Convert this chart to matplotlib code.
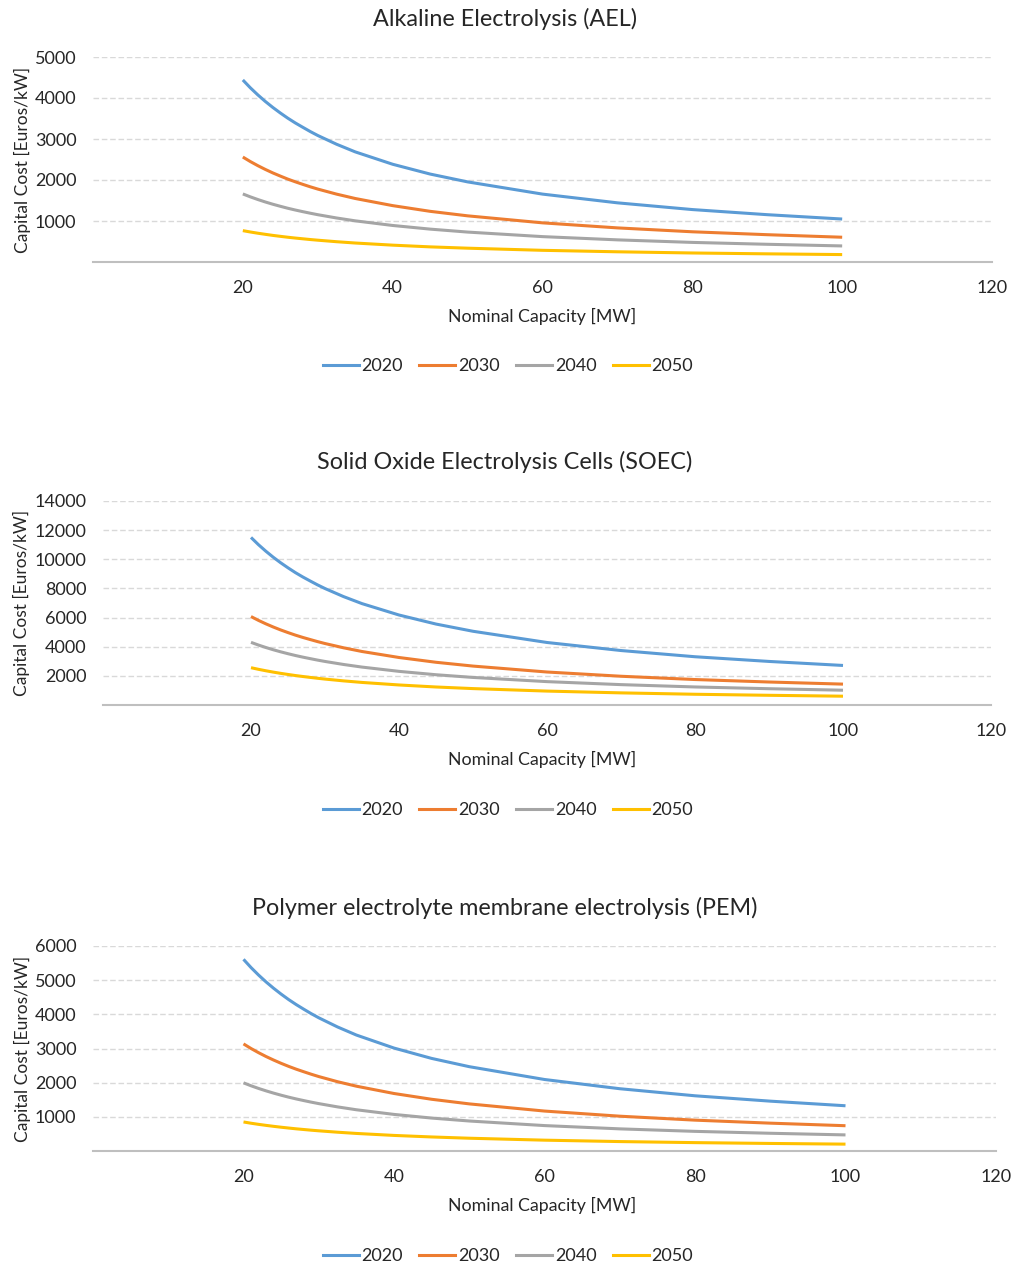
import matplotlib.pyplot as plt
from matplotlib.lines import Line2D

plt.rcParams['font.family'] = ['Lato', 'DejaVu Sans']

W, H = 1013, 1265

# Nominal capacity [MW] where the curves were read
capacity = [20, 21, 22, 23, 24, 25, 26, 27, 28, 29, 30, 32.5, 35, 40, 45, 50, 60, 70, 80, 90, 100]
years = ['2020', '2030', '2040', '2050']
colors = ['#5B9BD5', '#ED7D31', '#A5A5A5', '#FFC000']

# Alkaline Electrolysis (AEL) [Euros/kW]
ael_2020 = [4440, 4249, 4076, 3916, 3770, 3635, 3508, 3392, 3286, 3182, 3086, 2873, 2686, 2384, 2145, 1954, 1656, 1443, 1279, 1154, 1048]
ael_2030 = [2560, 2450, 2350, 2258, 2173, 2096, 2022, 1956, 1894, 1834, 1779, 1656, 1549, 1375, 1236, 1126, 955, 832, 737, 666, 604]
ael_2040 = [1660, 1589, 1524, 1464, 1409, 1359, 1311, 1268, 1228, 1190, 1154, 1074, 1004, 891, 802, 730, 619, 540, 478, 432, 392]
ael_2050 = [765, 732, 702, 675, 649, 626, 604, 584, 566, 548, 532, 495, 463, 411, 369, 337, 285, 249, 220, 199, 181]

# Solid Oxide Electrolysis Cells (SOEC)
soec_2020 = [11500, 11006, 10557, 10143, 9764, 9414, 9085, 8786, 8510, 8241, 7993, 7441, 6958, 6176, 5555, 5060, 4290, 3738, 3312, 2990, 2714]
soec_2030 = [6070, 5809, 5572, 5354, 5153, 4969, 4795, 4637, 4492, 4350, 4219, 3927, 3672, 3260, 2932, 2671, 2264, 1973, 1748, 1578, 1433]
soec_2040 = [4300, 4115, 3947, 3793, 3651, 3520, 3397, 3285, 3182, 3081, 2989, 2782, 2602, 2309, 2077, 1892, 1604, 1398, 1238, 1118, 1015]
soec_2050 = [2560, 2450, 2350, 2258, 2173, 2096, 2022, 1956, 1894, 1834, 1779, 1656, 1549, 1375, 1236, 1126, 955, 832, 737, 666, 604]

# Polymer electrolyte membrane electrolysis (PEM)
pem_2020 = [5610, 5369, 5150, 4948, 4763, 4592, 4432, 4286, 4151, 4020, 3899, 3630, 3394, 3013, 2710, 2468, 2093, 1823, 1616, 1459, 1324]
pem_2030 = [3135, 3000, 2878, 2765, 2662, 2566, 2477, 2395, 2320, 2247, 2179, 2028, 1897, 1683, 1514, 1379, 1169, 1019, 903, 815, 740]
pem_2040 = [1995, 1909, 1831, 1760, 1694, 1633, 1576, 1524, 1476, 1430, 1387, 1291, 1207, 1071, 964, 878, 744, 648, 575, 519, 471]
pem_2050 = [850, 813, 780, 750, 722, 696, 672, 649, 629, 609, 591, 550, 514, 456, 411, 374, 317, 276, 245, 221, 201]

x_ticks = [20, 40, 60, 80, 100, 120]

panels = [
    # title, series, y ticks, axes box in px (left, right, top, bottom), title y, xlabel y, legend y
    ("Alkaline Electrolysis (AEL)", [ael_2020, ael_2030, ael_2040, ael_2050],
     [1000, 2000, 3000, 4000, 5000], (93, 992, 57, 262), 19, 316, 366),
    ("Solid Oxide Electrolysis Cells (SOEC)", [soec_2020, soec_2030, soec_2040, soec_2050],
     [2000, 4000, 6000, 8000, 10000, 12000, 14000], (103, 991, 501, 705), 462, 759, 810),
    ("Polymer electrolyte membrane electrolysis (PEM)", [pem_2020, pem_2030, pem_2040, pem_2050],
     [1000, 2000, 3000, 4000, 5000, 6000], (93, 996, 946, 1151), 908, 1205, 1256),
]

txt = '#262626'
fig = plt.figure(figsize=(W / 100, H / 100), dpi=100)

for title, series, yt, (l, r, t, b), ty, xly, lgy in panels:
    ax = fig.add_axes([l / W, 1 - b / H, (r - l) / W, (b - t) / H])
    for vals, c, yr in zip(series, colors, years):
        ax.plot(capacity, vals, color=c, lw=2.2, label=yr,
                solid_capstyle='butt', solid_joinstyle='round')
    ax.set_xlim(0, 120)
    ax.set_ylim(0, yt[-1])
    ax.set_xticks(x_ticks)
    ax.set_yticks(yt)
    ax.tick_params(length=0, labelsize=13, labelcolor=txt)
    ax.tick_params(axis='x', pad=13)
    ax.tick_params(axis='y', pad=12)
    ax.grid(axis='y', color='#d9d9d9', ls=(0, (4, 2)), lw=1)
    for s in ['top', 'right', 'left']:
        ax.spines[s].set_visible(False)
    ax.spines['bottom'].set_color('#bfbfbf')
    ax.spines['bottom'].set_linewidth(1.5)
    ax.set_ylabel("Capital Cost [Euros/kW]", fontsize=12.5, color=txt, labelpad=3)
    fig.text(505 / W, 1 - ty / H, title, ha='center', va='center', fontsize=16.8, color=txt)
    fig.text(542 / W, 1 - xly / H, "Nominal Capacity [MW]", ha='center', va='center', fontsize=12.8, color=txt)
    handles = [Line2D([], [], color=c, lw=2.2) for c in colors]
    fig.legend(handles, years, loc='center', bbox_to_anchor=(508 / W, 1 - lgy / H), ncol=4,
               frameon=False, fontsize=13, handlelength=2.0, handletextpad=0.15,
               columnspacing=0.9, labelcolor=txt)

fig.savefig('out.png', dpi=100)
